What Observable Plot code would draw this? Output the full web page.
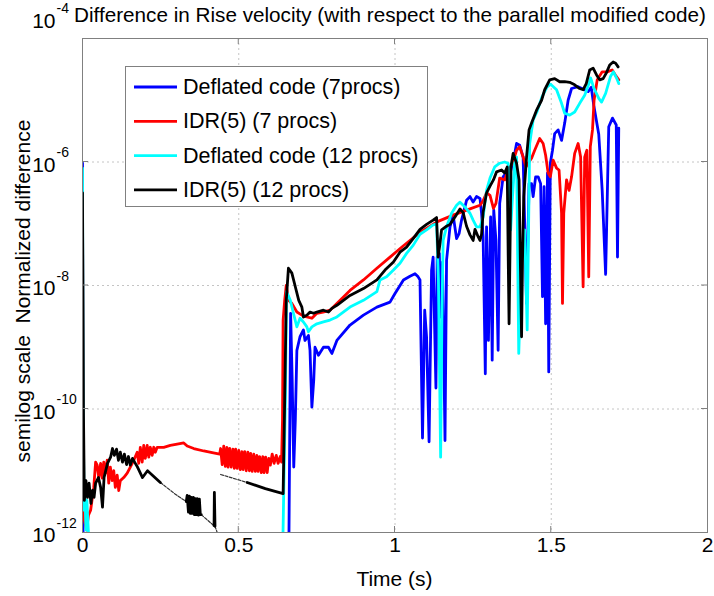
<!DOCTYPE html>
<html><head><meta charset="utf-8">
<script src="https://cdn.jsdelivr.net/npm/d3@7"></script>
<script src="https://cdn.jsdelivr.net/npm/@observablehq/plot@0.6"></script>
<style>
body{margin:0;background:#fff;}
svg text{font-family:"Liberation Sans",Arial,Helvetica,sans-serif;}
</style>
</head><body><div id="chart"></div>
<script>
// ---------- data (time in s, log10 of normalized difference) ----------
const titleText = "Difference in Rise velocity (with respect to the parallel modified code)";
const xLabel = "Time (s)";
const yLabel = "semilog scale  Normalized difference";
const seriesNames = ["Deflated code (7procs)", "IDR(5) (7 procs)", "Deflated code (12 procs)", "IDR(5) (12 procs)"];
const seriesColors = ["#0000ff", "#ff0000", "#00ffff", "#000000"];
const xTicks = [0, 0.5, 1, 1.5, 2];
const yTickExponents = [-12, -10, -8, -6, -4];

const deflated7 = [[0,-6.02],[0.002,-12.3],[0.660,-12.5],[0.666,-8.45],[0.671,-9.53],[0.676,-10.94],[0.681,-10.18],[0.686,-9.05],[0.696,-8.83],[0.707,-8.72],[0.712,-8.89],[0.723,-8.81],[0.728,-9.05],[0.734,-9.97],[0.740,-9.53],[0.744,-9.00],[0.755,-9.13],[0.771,-9.00],[0.787,-9.00],[0.798,-9.10],[0.814,-8.89],[0.856,-8.64],[0.899,-8.48],[0.942,-8.35],[0.984,-8.27],[1.000,-8.13],[1.027,-7.91],[1.048,-7.85],[1.064,-7.81],[1.074,-7.86],[1.080,-7.91],[1.088,-10.47],[1.095,-8.40],[1.101,-8.83],[1.109,-10.53],[1.117,-7.75],[1.122,-7.54],[1.131,-9.66],[1.135,-7.54],[1.142,-7.48],[1.146,-8.51],[1.152,-7.62],[1.160,-10.51],[1.165,-7.59],[1.176,-7.05],[1.186,-6.86],[1.197,-7.24],[1.205,-7.16],[1.213,-6.94],[1.229,-6.62],[1.240,-6.56],[1.250,-6.65],[1.261,-6.56],[1.272,-6.59],[1.277,-6.83],[1.282,-7.21],[1.289,-9.43],[1.293,-7.05],[1.299,-8.89],[1.306,-6.89],[1.311,-9.21],[1.316,-6.78],[1.323,-7.27],[1.330,-9.05],[1.335,-6.67],[1.346,-6.24],[1.355,-6.18],[1.362,-6.35],[1.373,-6.08],[1.381,-5.92],[1.389,-5.70],[1.399,-5.73],[1.410,-5.92],[1.421,-8.29],[1.429,-6.35],[1.437,-6.35],[1.442,-6.56],[1.450,-6.24],[1.458,-6.24],[1.466,-6.35],[1.472,-8.18],[1.477,-6.40],[1.482,-8.62],[1.488,-6.18],[1.492,-9.40],[1.497,-6.02],[1.504,-5.81],[1.511,-5.54],[1.522,-5.48],[1.533,-5.65],[1.543,-5.37],[1.554,-5.00],[1.565,-4.81],[1.586,-4.78],[1.607,-4.83],[1.618,-4.86],[1.628,-4.79],[1.636,-5.08],[1.652,-5.55],[1.663,-6.46],[1.674,-7.82],[1.684,-5.43],[1.696,-5.29],[1.708,-5.40],[1.712,-7.54],[1.716,-5.45]];

const idr7 = [[0,-6.62],[0.002,-10.67],[0.006,-11.80],[0.013,-11.96],[0.019,-11.72],[0.026,-11.64],[0.036,-11.27],[0.042,-10.86],[0.047,-10.91],[0.052,-11.11],[0.058,-10.88],[0.063,-11.12],[0.068,-10.86],[0.073,-11.04],[0.079,-10.83],[0.084,-11.20],[0.089,-10.94],[0.095,-11.16],[0.100,-11.00],[0.105,-11.27],[0.111,-11.07],[0.116,-11.32],[0.121,-11.16],[0.132,-11.11],[0.143,-11.04],[0.153,-10.94],[0.164,-10.83],[0.175,-10.70],[0.180,-10.88],[0.185,-10.62],[0.191,-10.86],[0.196,-10.59],[0.201,-10.80],[0.207,-10.59],[0.212,-10.78],[0.217,-10.62],[0.223,-10.75],[0.228,-10.62],[0.233,-10.70],[0.239,-10.62],[0.260,-10.62],[0.281,-10.59],[0.303,-10.57],[0.324,-10.55],[0.335,-10.60],[0.356,-10.64],[0.388,-10.68],[0.419,-10.71],[0.439,-10.73],[0.442,-10.64],[0.447,-10.90],[0.452,-10.60],[0.457,-10.93],[0.462,-10.62],[0.466,-10.94],[0.471,-10.64],[0.476,-10.94],[0.481,-10.65],[0.486,-10.96],[0.490,-10.65],[0.495,-10.96],[0.500,-10.67],[0.505,-10.98],[0.510,-10.69],[0.514,-10.98],[0.519,-10.69],[0.524,-11.00],[0.529,-10.70],[0.534,-11.00],[0.538,-10.72],[0.543,-11.01],[0.548,-10.73],[0.553,-11.01],[0.558,-10.75],[0.562,-11.01],[0.567,-10.77],[0.572,-11.03],[0.577,-10.77],[0.581,-11.03],[0.586,-10.78],[0.591,-11.03],[0.596,-10.80],[0.601,-10.91],[0.607,-10.73],[0.613,-10.88],[0.620,-10.75],[0.626,-10.88],[0.633,-10.77],[0.637,-10.86],[0.640,-10.18],[0.642,-8.56],[0.647,-8.24],[0.652,-8.00],[0.659,-8.24],[0.670,-8.29],[0.686,-8.43],[0.702,-8.48],[0.718,-8.51],[0.734,-8.53],[0.750,-8.45],[0.770,-8.43],[0.792,-8.40],[0.814,-8.29],[0.856,-8.08],[0.899,-7.91],[0.942,-7.72],[0.984,-7.54],[1.026,-7.36],[1.080,-7.14],[1.134,-6.97],[1.186,-6.86],[1.240,-6.76],[1.272,-6.70],[1.282,-6.63],[1.293,-6.50],[1.304,-6.54],[1.315,-6.75],[1.323,-6.67],[1.335,-6.26],[1.351,-6.29],[1.362,-6.13],[1.376,-6.02],[1.389,-5.81],[1.399,-5.75],[1.410,-5.92],[1.419,-6.08],[1.426,-6.02],[1.437,-5.94],[1.447,-5.81],[1.463,-5.62],[1.474,-5.70],[1.482,-5.89],[1.490,-6.18],[1.497,-6.24],[1.506,-5.97],[1.517,-6.10],[1.525,-6.13],[1.533,-6.83],[1.536,-8.29],[1.540,-6.83],[1.549,-6.29],[1.557,-6.46],[1.565,-6.24],[1.575,-5.86],[1.586,-5.70],[1.594,-5.92],[1.602,-8.02],[1.607,-5.92],[1.614,-5.81],[1.620,-7.86],[1.625,-5.75],[1.632,-5.48],[1.637,-5.00],[1.647,-4.67],[1.663,-4.54],[1.679,-4.54],[1.695,-4.51],[1.705,-4.59],[1.716,-4.67]];

const deflated12 = [[0,-6.10],[0.002,-9.86],[0.005,-11.64],[0.008,-11.43],[0.011,-11.96],[0.014,-11.48],[0.019,-12.00],[0.022,-12.2],[0.641,-12.2],[0.644,-11.32],[0.649,-9.86],[0.653,-8.10],[0.658,-8.16],[0.665,-8.24],[0.675,-8.45],[0.686,-8.67],[0.696,-8.53],[0.707,-8.59],[0.718,-8.67],[0.723,-8.75],[0.734,-8.67],[0.750,-8.62],[0.771,-8.59],[0.792,-8.56],[0.814,-8.51],[0.856,-8.35],[0.899,-8.24],[0.942,-8.10],[0.952,-7.91],[0.973,-7.86],[0.995,-7.75],[1.016,-7.64],[1.037,-7.48],[1.058,-7.35],[1.080,-7.17],[1.101,-7.10],[1.122,-7.02],[1.133,-7.00],[1.139,-7.91],[1.146,-10.78],[1.150,-8.56],[1.154,-7.27],[1.165,-7.05],[1.181,-6.83],[1.197,-6.70],[1.208,-6.65],[1.224,-6.73],[1.240,-6.83],[1.250,-6.94],[1.261,-7.05],[1.272,-7.05],[1.282,-6.89],[1.293,-6.46],[1.304,-6.26],[1.319,-6.08],[1.335,-6.02],[1.351,-6.00],[1.362,-6.02],[1.370,-7.10],[1.376,-6.56],[1.383,-6.02],[1.389,-5.92],[1.396,-9.10],[1.405,-7.64],[1.415,-7.10],[1.423,-8.72],[1.431,-5.70],[1.442,-5.32],[1.454,-5.19],[1.470,-4.95],[1.486,-4.79],[1.498,-4.74],[1.517,-4.83],[1.533,-5.05],[1.543,-5.21],[1.559,-5.24],[1.575,-5.19],[1.591,-5.05],[1.607,-4.92],[1.618,-4.77],[1.626,-4.64],[1.636,-4.80],[1.652,-4.97],[1.661,-5.03],[1.674,-4.89],[1.690,-4.61],[1.699,-4.54],[1.709,-4.64],[1.716,-4.73]];

// null marks a break in the recorded curve
const idr12 = [[0,-6.50],[0.003,-10.02],[0.006,-11.48],[0.011,-11.16],[0.016,-11.43],[0.021,-11.20],[0.027,-11.53],[0.032,-11.32],[0.037,-11.43],[0.042,-11.20],[0.051,-11.11],[0.058,-11.27],[0.064,-11.59],[0.069,-11.11],[0.080,-10.88],[0.090,-10.78],[0.096,-10.64],[0.102,-10.75],[0.109,-10.65],[0.115,-10.83],[0.121,-10.70],[0.128,-10.86],[0.134,-10.73],[0.141,-10.90],[0.147,-10.77],[0.153,-10.91],[0.160,-10.80],[0.169,-10.88],[0.176,-10.94],[0.192,-11.11],[0.208,-11.00],[0.249,-11.19],[0.297,-11.38],[0.332,-11.50],[0.335,-11.40],[0.339,-11.67],[0.342,-11.41],[0.345,-11.69],[0.348,-11.43],[0.351,-11.69],[0.355,-11.43],[0.358,-11.71],[0.361,-11.45],[0.364,-11.71],[0.367,-11.45],[0.371,-11.72],[0.374,-11.46],[0.377,-11.71],[0.380,-11.71],[0.409,-11.84],[0.421,-11.89],[0.422,-11.35],[0.424,-11.90],[0.431,-12.00],[0.436,-12.2],[0.438,null],[0.442,-11.06],[0.527,-11.19],[0.585,-11.29],[0.642,-11.37],[0.647,-9.86],[0.652,-8.24],[0.659,-7.72],[0.670,-7.80],[0.681,-8.02],[0.692,-8.24],[0.702,-8.35],[0.707,-8.51],[0.718,-8.48],[0.728,-8.43],[0.739,-8.45],[0.750,-8.43],[0.771,-8.40],[0.787,-8.43],[0.798,-8.37],[0.814,-8.32],[0.856,-8.16],[0.899,-8.05],[0.942,-7.91],[0.968,-7.75],[0.995,-7.62],[1.016,-7.46],[1.037,-7.38],[1.058,-7.24],[1.080,-7.09],[1.101,-7.01],[1.122,-6.94],[1.133,-6.90],[1.138,-7.54],[1.144,-7.32],[1.149,-7.10],[1.165,-7.04],[1.176,-7.01],[1.192,-6.89],[1.208,-6.76],[1.218,-6.82],[1.229,-7.04],[1.240,-7.18],[1.250,-7.27],[1.256,-7.09],[1.266,-7.21],[1.272,-7.27],[1.277,-7.17],[1.282,-6.81],[1.293,-6.50],[1.304,-6.39],[1.315,-6.29],[1.325,-6.16],[1.341,-6.13],[1.351,-6.18],[1.359,-6.08],[1.362,-7.43],[1.365,-8.62],[1.368,-7.43],[1.371,-6.08],[1.378,-5.86],[1.389,-6.02],[1.397,-6.29],[1.401,-7.59],[1.405,-8.83],[1.408,-7.59],[1.412,-6.56],[1.421,-5.92],[1.429,-5.48],[1.437,-5.37],[1.453,-5.16],[1.469,-5.00],[1.479,-4.83],[1.495,-4.67],[1.511,-4.65],[1.527,-4.70],[1.543,-4.70],[1.559,-4.71],[1.575,-4.75],[1.591,-4.81],[1.602,-4.83],[1.612,-4.73],[1.623,-4.51],[1.634,-4.48],[1.645,-4.59],[1.655,-4.67],[1.666,-4.65],[1.676,-4.56],[1.687,-4.43],[1.698,-4.38],[1.706,-4.40],[1.714,-4.46]];

const seriesData = [deflated7, idr7, deflated12, idr12];
// time spans where the IDR(5) 12-proc curve appears as a sparse, thin trace
const thinSpans = [[0.249, 0.332], [0.380, 0.421], [0.424, 0.436], [0.438, 0.527]];

// ---------- build table ----------
const rows = seriesData.flatMap((pts, k) =>
  pts.map(([t, lg]) => ({t, v: lg === null ? NaN : Math.pow(10, lg), series: seriesNames[k]})));
const yTickValues = yTickExponents.map(e => Math.pow(10, e));
const FONT = '"Liberation Sans",Arial,Helvetica,sans-serif';
const inThin = t => thinSpans.some(([a, b]) => t > a && t < b);
const inThinClosed = t => thinSpans.some(([a, b]) => t >= a && t <= b);

const lineOpts = {x: "t", y: "v", stroke: "series", strokeWidth: 2.8, strokeLinejoin: "round", strokeLinecap: "round", clip: true};
const lastName = seriesNames[3];
const blackRows = rows.filter(d => d.series === lastName);

const chart = Plot.plot({
  width: 714, height: 596,
  marginLeft: 82, marginRight: 7, marginTop: 38, marginBottom: 64,
  style: {fontFamily: FONT, background: "white", overflow: "visible"},
  x: {domain: [0, 2], axis: null},
  y: {type: "log", domain: [1e-12, 1e-4], axis: null},
  color: {domain: seriesNames, range: seriesColors},
  marks: [
    Plot.gridX(xTicks.slice(1, -1), {stroke: "#c4c4c4", strokeOpacity: 1, strokeDasharray: "2,3"}),
    Plot.gridY(yTickValues.slice(1, -1), {stroke: "#c4c4c4", strokeOpacity: 1, strokeDasharray: "2,3"}),
    ...seriesNames.slice(0, 3).map(name => Plot.line(rows.filter(d => d.series === name), lineOpts)),
    // thin sparse stretches of the black curve
    Plot.line(blackRows.map(d => ({...d, v: inThinClosed(d.t) ? d.v : NaN})),
      {x: "t", y: "v", stroke: "#333", strokeWidth: 1.2, strokeDasharray: "3,1.5", clip: true}),
    Plot.line(blackRows.map(d => ({...d, v: inThin(d.t) ? NaN : d.v})), lineOpts),
    Plot.frame({stroke: "#808080", strokeWidth: 1}),
    // x tick labels
    Plot.text(xTicks, {x: d => d, frameAnchor: "bottom", dy: 19, text: d => String(d), fontSize: 21, fill: "#000"}),
    // y tick labels (mantissa + exponent)
    Plot.text(yTickValues.slice(0, -1), {y: d => d, frameAnchor: "left", dx: -27, dy: 3, text: () => "10", textAnchor: "end", fontSize: 21, fill: "#000"}),
    Plot.text(yTickValues.slice(0, -1), {y: d => d, frameAnchor: "left", dx: -26, dy: -9, text: d => String(Math.round(Math.log10(d))), textAnchor: "start", fontSize: 14, fill: "#000"}),
    Plot.text(yTickValues.slice(-1), {y: d => d, frameAnchor: "left", dx: -27, dy: -17, text: () => "10", textAnchor: "end", fontSize: 21, fill: "#000"}),
    Plot.text(yTickValues.slice(-1), {y: d => d, frameAnchor: "left", dx: -26, dy: -30, text: d => String(Math.round(Math.log10(d))), textAnchor: "start", fontSize: 14, fill: "#000"})
  ]
});
document.getElementById("chart").appendChild(chart);

// ---------- decorations drawn with the library's scales ----------
const svg = d3.select(chart);
const sx = chart.scale("x"), sy = chart.scale("y");
const [x0, x1] = sx.range, [y0, y1] = sy.range; // y0 bottom, y1 top
const tk = svg.append("g").attr("stroke", "#808080").attr("stroke-width", 1);
xTicks.slice(1, -1).forEach(v => {
  const px = sx.apply(v);
  tk.append("line").attr("x1", px).attr("x2", px).attr("y1", y0).attr("y2", y0 - 6);
  tk.append("line").attr("x1", px).attr("x2", px).attr("y1", y1).attr("y2", y1 + 6);
});
yTickValues.slice(1, -1).forEach(v => {
  const py = sy.apply(v);
  tk.append("line").attr("x1", x0).attr("x2", x0 + 6).attr("y1", py).attr("y2", py);
  tk.append("line").attr("x1", x1).attr("x2", x1 - 6).attr("y1", py).attr("y2", py);
});

// title and axis labels
svg.append("text").attr("x", 74).attr("y", 15).attr("text-anchor", "start")
  .attr("dominant-baseline", "central").attr("font-size", 20.4).attr("fill", "#000")
  .attr("textLength", 632).attr("lengthAdjust", "spacingAndGlyphs").text(titleText);
svg.append("text").attr("x", (x0 + x1) / 2).attr("y", 578).attr("text-anchor", "middle")
  .attr("dominant-baseline", "central").attr("font-size", 21).attr("fill", "#000").text(xLabel);
svg.append("text").attr("transform", `translate(22,${(y0 + y1) / 2 + 6}) rotate(-90)`)
  .attr("text-anchor", "middle").attr("dominant-baseline", "central").attr("font-size", 21)
  .attr("fill", "#000").style("white-space", "pre").text(yLabel);

// legend
const lg = svg.append("g");
lg.append("rect").attr("x", 125.5).attr("y", 66.5).attr("width", 302).attr("height", 140)
  .attr("fill", "white").attr("stroke", "#808080").attr("stroke-width", 1);
seriesNames.forEach((name, i) => {
  const cy = 87 + i * 34.3;
  lg.append("line").attr("x1", 134).attr("x2", 177).attr("y1", cy).attr("y2", cy)
    .attr("stroke", seriesColors[i]).attr("stroke-width", 2.8);
  lg.append("text").attr("x", 183).attr("y", cy).attr("text-anchor", "start").attr("dominant-baseline", "central")
    .attr("font-size", 21.5).attr("fill", "#000").text(name);
});
</script>
</body></html>
